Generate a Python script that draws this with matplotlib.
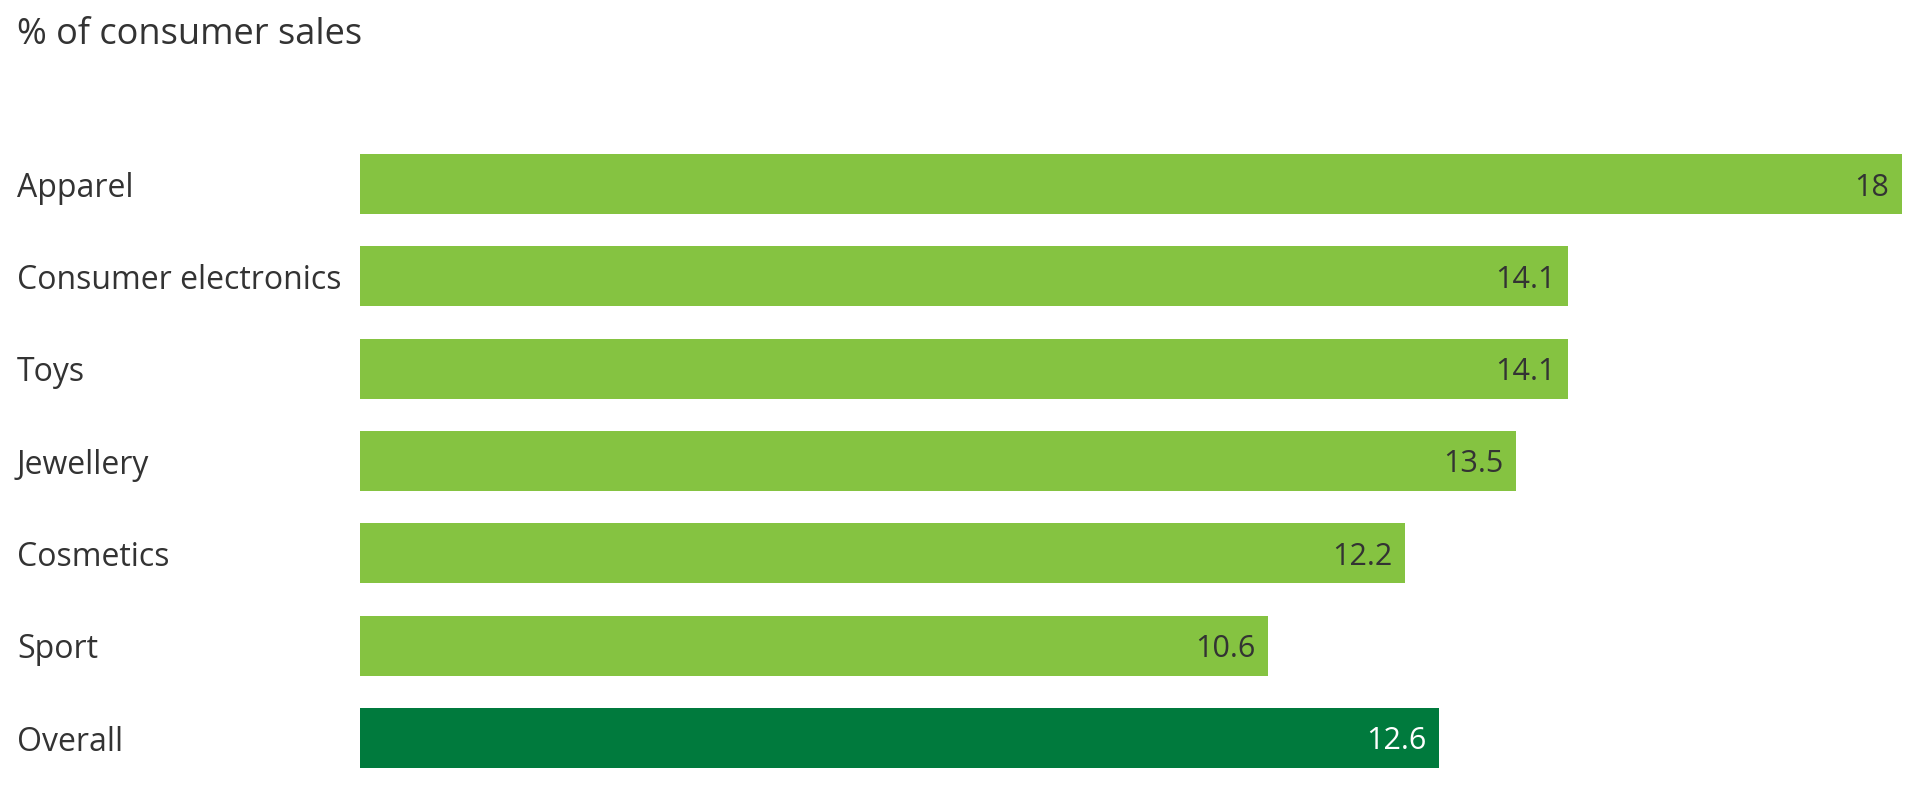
import matplotlib.pyplot as plt
from matplotlib.transforms import blended_transform_factory

categories = ['Apparel', 'Consumer electronics', 'Toys', 'Jewellery', 'Cosmetics', 'Sport', 'Overall']
values = [18, 14.1, 14.1, 13.5, 12.2, 10.6, 12.6]
value_labels = ['18', '14.1', '14.1', '13.5', '12.2', '10.6', '12.6']

light_green = '#85c341'
dark_green = '#007a3d'
text_color = '#333333'

plt.rcParams['font.family'] = ['Open Sans', 'DejaVu Sans']

fig = plt.figure(figsize=(19.14, 7.96), dpi=100)
ax = fig.add_axes([360 / 1914, 1 - 784 / 796, 1542 / 1914, 646 / 796])

colors = [light_green] * (len(categories) - 1) + [dark_green]
y = list(range(len(categories)))
ax.barh(y, values, height=0.65, color=colors)

ax.set_xlim(0, 18)
ax.set_ylim(len(categories) - 0.5, -0.5)
ax.axis('off')

label_tf = blended_transform_factory(fig.transFigure, ax.transData)
for i, (cat, val, lab) in enumerate(zip(categories, values, value_labels)):
    ax.annotate(cat, xy=(17 / 1914, i), xycoords=label_tf, xytext=(0, -3),
                textcoords='offset points', ha='left', va='center',
                fontsize=23, color=text_color)
    col = 'white' if i == len(categories) - 1 else text_color
    ax.annotate(lab, xy=(val, i), xytext=(-9, -2.5), textcoords='offset points',
                ha='right', va='center', fontsize=22, color=col)

fig.text(17 / 1914, 1 - 44 / 796, '% of consumer sales', ha='left', va='baseline',
         fontsize=26, color=text_color)

fig.savefig('out.png', dpi=100)
